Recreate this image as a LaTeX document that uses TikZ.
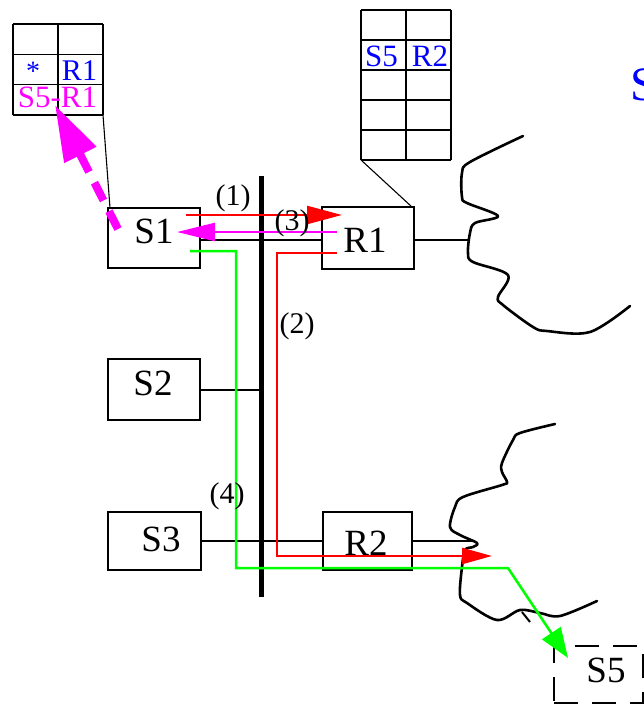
\documentclass[tikz,border=0pt]{standalone}
\usepackage{fontspec}
\setmainfont{Liberation Serif}
\usetikzlibrary{arrows.meta}
\definecolor{mag}{RGB}{255,0,255}
\definecolor{grn}{RGB}{0,255,0}
\definecolor{rd}{RGB}{255,0,0}
\definecolor{bl}{RGB}{0,0,255}
\begin{document}
\begin{tikzpicture}[x=1pt,y=-1pt,
  box/.style={draw,line width=1.8pt,inner sep=0pt,outer sep=0pt},
  lbl/.style={font=\fontsize{37}{40}\selectfont,inner sep=0pt,anchor=base},
  num/.style={font=\fontsize{30}{34}\selectfont,inner sep=0pt,anchor=base},
  tt/.style={font=\fontsize{31}{34}\selectfont,inner sep=0pt,anchor=base,text=bl},
  wire/.style={line width=2pt},
  tbl/.style={line width=1.3pt},
  thinwire/.style={line width=1.1pt},
  cloud/.style={line width=2.6pt,line cap=round,line join=round},
  flow/.style={line width=2.5pt}]
\useasboundingbox (0,0) rectangle (644,707);

% bus
\coordinate (bt) at (261,176);
\coordinate (bb) at (261,597);
\draw[line width=5pt] (bt) -- (bb);

% boxes
\node[box,minimum width=92pt,minimum height=60pt] (S1) at (154,238) {};
\node[box,minimum width=92pt,minimum height=61pt] (S2) at (154,389.5) {};
\node[box,minimum width=93pt,minimum height=58pt] (S3) at (154.5,541) {};
\node[box,minimum width=92pt,minimum height=62pt] (R1) at (368,238) {};
\node[box,minimum width=89pt,minimum height=58pt] (R2) at (367.5,541) {};
\node[box,line width=2.2pt,dash pattern=on 24pt off 14pt,minimum width=89pt,minimum height=57pt] (S5) at (598.5,674.5) {};

\node[lbl] (S1t) at (154,243) {S1};
\node[lbl] (S2t) at (153,395) {S2};
\node[lbl] (S3t) at (161,551) {S3};
\node[lbl] (R1t) at (365,252) {R1};
\node[lbl] (R2t) at (366,555) {R2};
\node[lbl] (S5t) at (606,682) {S5};

% wires
\coordinate (c1) at (468,240);
\coordinate (c2) at (473,541);
\draw[wire] ([yshift=-2pt]S1.east) -- ([yshift=-2pt]R1.west);
\draw[wire] (S2.east) -- (S2.east -| bt);
\draw[wire] (S3.east) -- (R2.west);
\draw[wire] ([yshift=-2pt]R1.east) -- (c1);
\draw[wire] (R2.east) -- (c2);

% clouds
\draw[cloud] plot[smooth,tension=0.55] coordinates {(523,136) (470,162) (462,173) (462,197) (467,203) (498,216) (475,223) (470,233) (468,253) (473,262) (508,275) (498,297) (503,305) (533,327) (547,331) (590,332) (630,306)};
\draw[cloud] plot[smooth,tension=0.55] coordinates {(555,424) (520,433) (513,440) (502,463) (502,472) (507,482) (502,485) (463,497) (455,507) (450,527) (460,535) (477,543) (473,547) (465,550) (462,567) (460,595) (467,603) (497,620) (520,610) (540,613) (560,616) (597,601)};
\coordinate (k1) at (522,612);
\coordinate (k2) at (530,622);
\draw[line width=2pt] (k1) -- (k2);

% left table
\foreach \yy in {24,54.33,84.67,115} \draw[tbl] (13,\yy) -- (103,\yy);
\foreach \xx in {13,58,103} \draw[tbl] (\xx,24) -- (\xx,115);
\node[tt,font=\fontsize{28}{32}\selectfont] (ast) at (33,80) {*};
\node[tt,font=\fontsize{30}{32}\selectfont] (lR1) at (79.5,80) {R1};
\node[tt,font=\fontsize{31}{34}\selectfont,text=mag] (lS5R1) at (57.5,107) {S5-R1};

% right table
\foreach \yy in {10,40,70,100,130,160} \draw[tbl] (361,\yy) -- (451,\yy);
\foreach \xx in {361,406,451} \draw[tbl] (\xx,10) -- (\xx,160);
\node[tt] (rS5) at (381.5,66) {S5};
\node[tt] (rR2) at (430,66) {R2};

% table connectors
\coordinate (lt) at (103,115);
\coordinate (rt) at (361,160);
\draw[thinwire] (lt) -- ([xshift=2pt]S1.north west);
\draw[thinwire] (rt) -- ([xshift=-2pt]R1.north east);

% magenta dashed arrow
\coordinate (m0) at (118,229);
\coordinate (m1) at (55,105);
\draw[mag,line width=8pt,dash pattern=on 20pt off 12pt,-{Triangle[length=56pt,width=34pt]}] (m0) -- (m1);

% flows
\coordinate (a1s) at (186,215);
\coordinate (a1e) at (342,215);
\draw[rd,flow,-{Triangle[length=35pt,width=18pt]}] (a1s) -- (a1e);
\coordinate (a3s) at (337,232);
\coordinate (a3e) at (177,232);
\draw[mag,flow,-{Triangle[length=38pt,width=18pt]}] (a3s) -- (a3e);
\coordinate (a2s) at (337,253);
\coordinate (a2e) at (492,556);
\draw[rd,flow,-{Triangle[length=30pt,width=16pt]}] (a2s) -- (277,253) -- (277,556) -- (a2e);
\coordinate (a4s) at (190,251);
\coordinate (a4e) at (568,658);
\draw[grn,flow,-{Triangle[length=30pt,width=22pt]}] (a4s) -- (236,251) -- (236,568) -- (508,568) -- (a4e);

\node[num] (n1) at (233,205) {(1)};
\node[num] (n3) at (292,230) {(3)};
\node[num] (n2) at (297,333) {(2)};
\node[num] (n4) at (227,503) {(4)};

\node[font=\fontsize{48}{50}\selectfont,text=bl,anchor=base west,inner sep=0pt] (ttl) at (630,100) {S};
\end{tikzpicture}
\end{document}
